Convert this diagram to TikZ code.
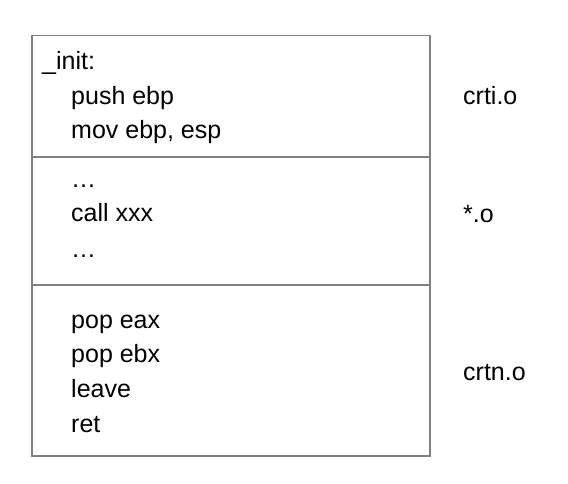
\documentclass[tikz,border=0pt]{standalone}
\usepackage{fontspec}
\setmainfont{Liberation Sans}
\begin{document}
\begin{tikzpicture}[x=1pt,y=-1pt,
  frame/.style={draw=black!50,line width=1.5pt},
  code/.style={anchor=west,inner sep=0pt,font=\fontsize{25}{29}\selectfont,text height=0.72em,text depth=0.2em},
  lbl/.style={code}]
\useasboundingbox (0,0) rectangle (568,484);
\node[frame,minimum width=398pt,minimum height=420pt,anchor=north west,inner sep=0pt] (box) at (31,35) {};
\coordinate (d1l) at (31,157); \coordinate (d1r) at (429,157);
\coordinate (d2l) at (31,285); \coordinate (d2r) at (429,285);
\draw[frame] (d1l) -- (d1r);
\draw[frame] (d2l) -- (d2r);
\node[code] (l1) at (42,67) {\_init:};
\node[code] (l2) at (71,102) {push ebp};
\node[code] (l3) at (71,136) {mov ebp, esp};
\node[code] (l4) at (71,185) {\dots};
\node[code] (l5) at (71,219) {call xxx};
\node[code] (l6) at (71,255) {\dots};
\node[code] (l7) at (71,326) {pop eax};
\node[code] (l8) at (71,360) {pop ebx};
\node[code] (l9) at (71,395) {leave};
\node[code] (l10) at (71,430) {ret};
\node[lbl] (r1) at (463,102) {crti.o};
\node[lbl] (r2) at (463,220) {*.o};
\node[lbl] (r3) at (463,378) {crtn.o};
\end{tikzpicture}
\end{document}
